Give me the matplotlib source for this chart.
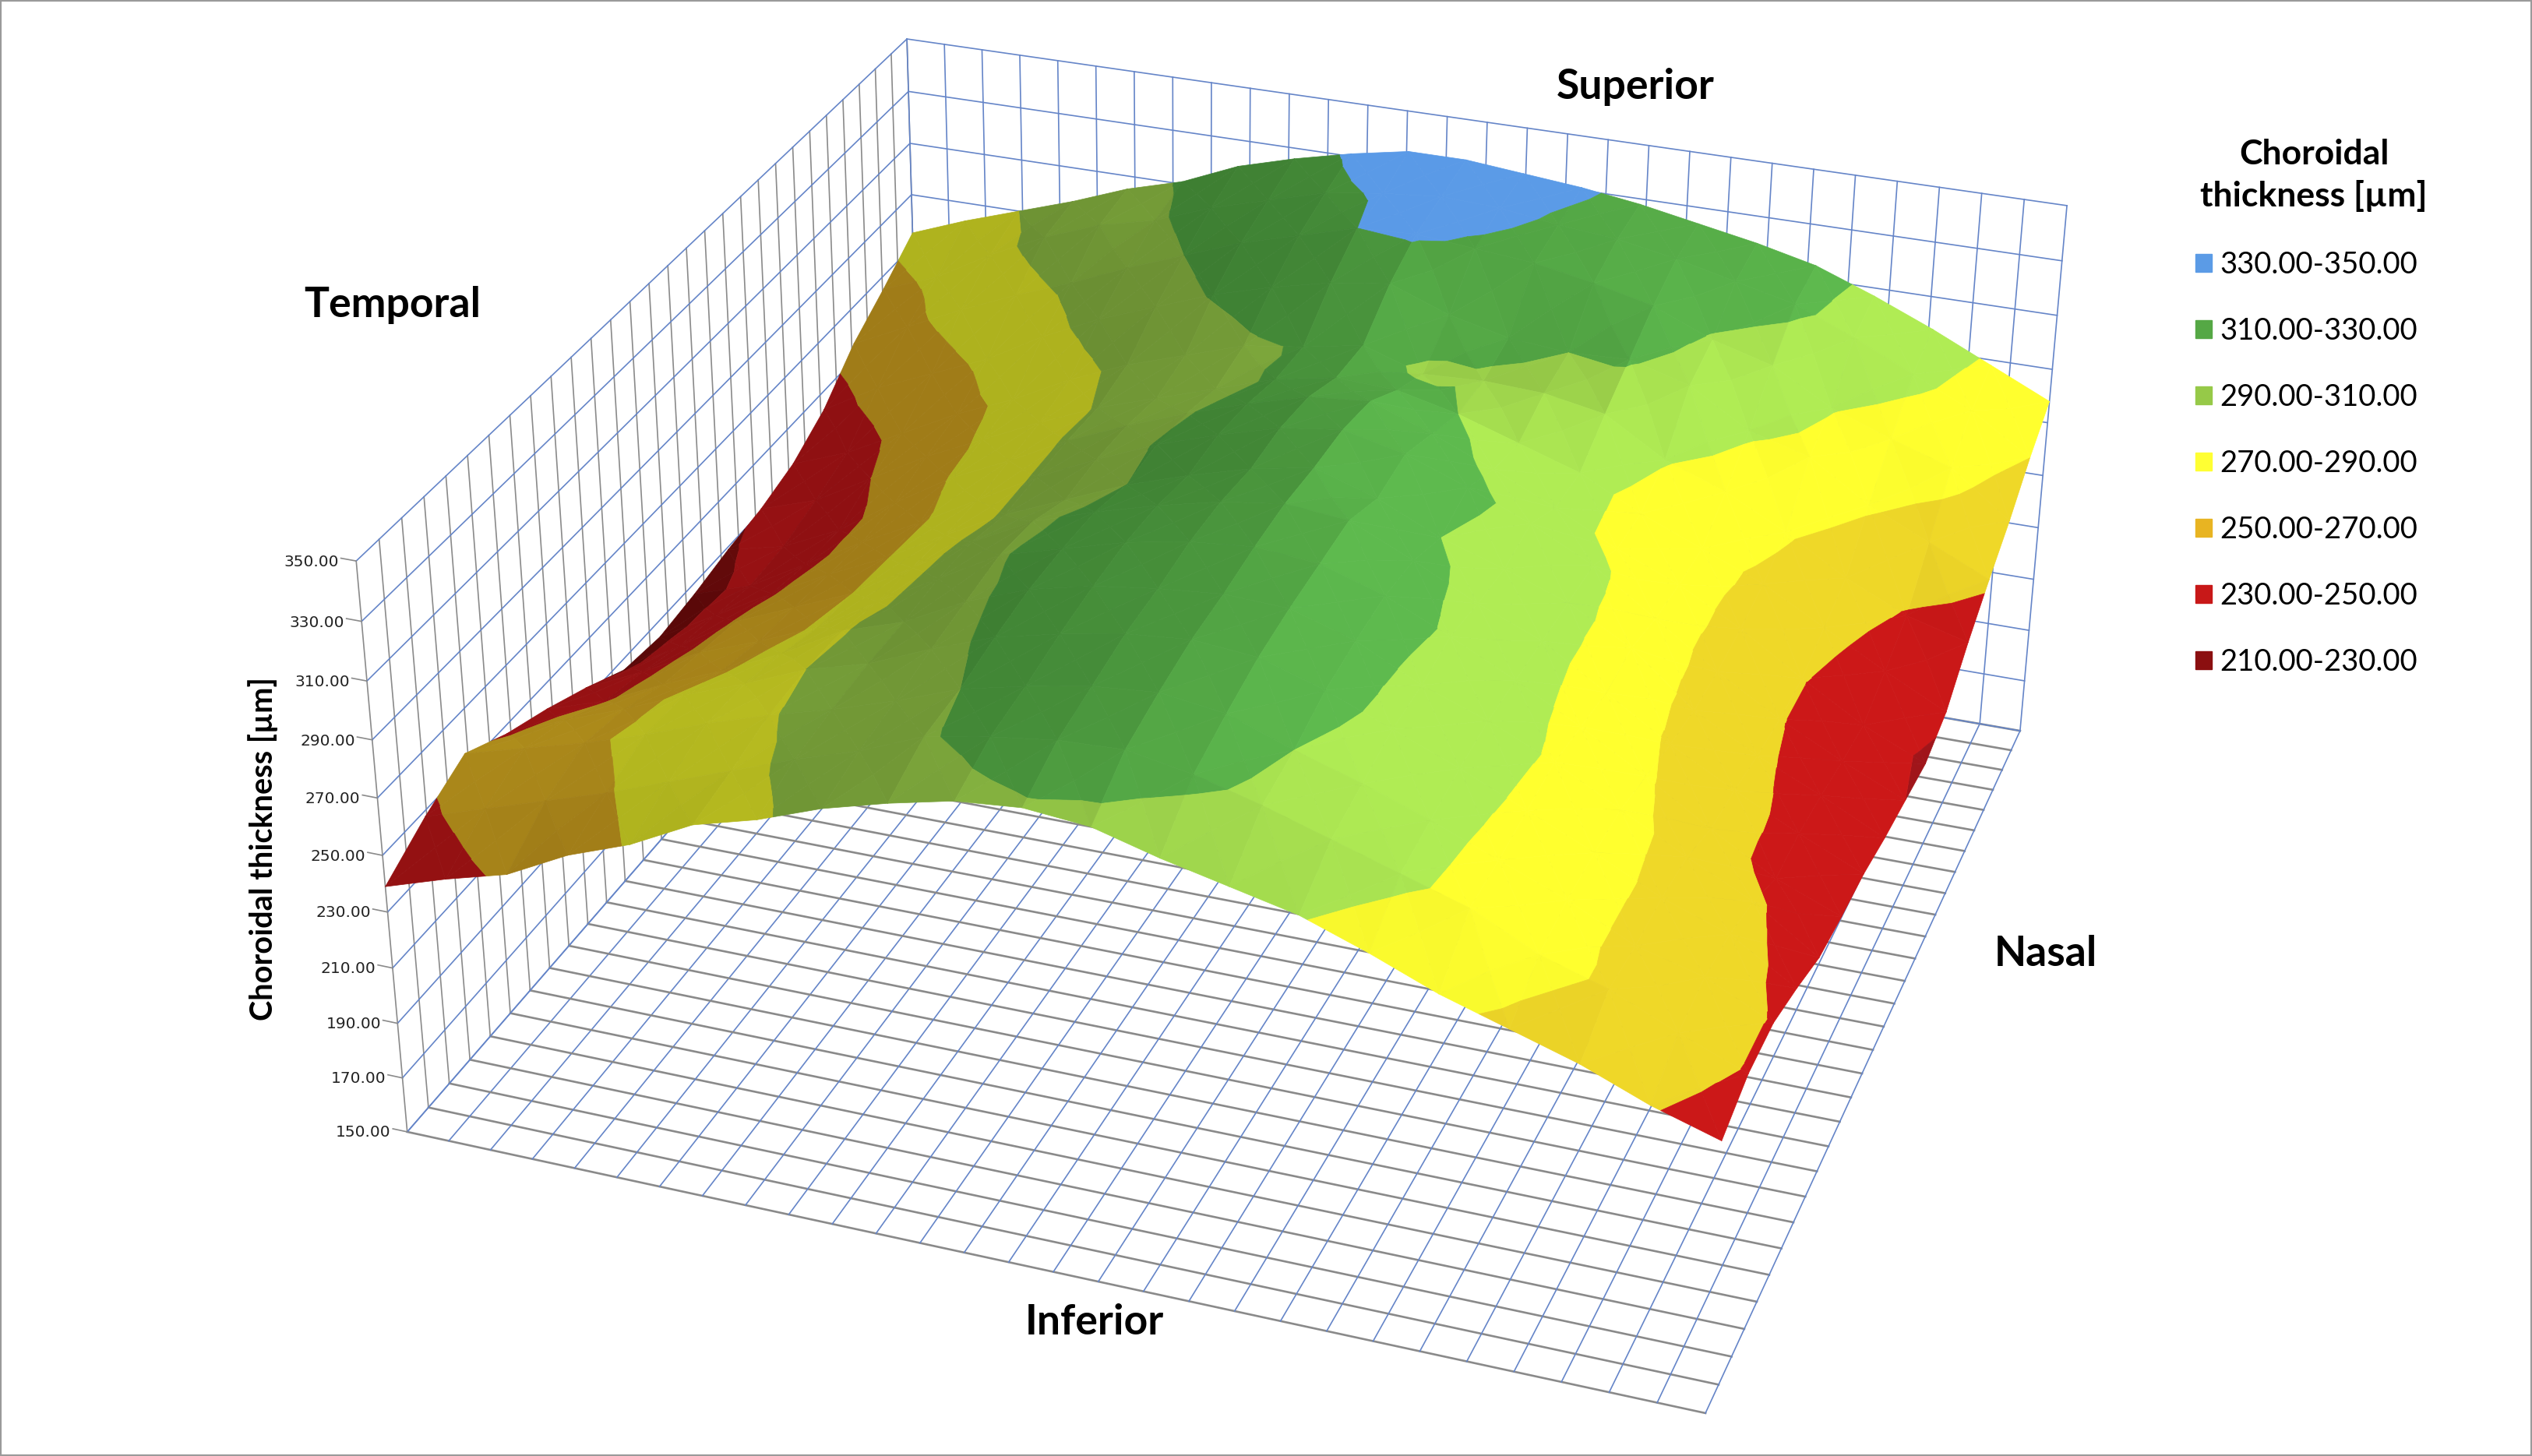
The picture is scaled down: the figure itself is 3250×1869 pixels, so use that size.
import matplotlib
matplotlib.use('Agg')
import matplotlib.pyplot as plt
import numpy as np
from matplotlib.patches import Patch, Rectangle
from mpl_toolkits.mplot3d import proj3d
from mpl_toolkits.mplot3d.art3d import Poly3DCollection

W, H = 3250, 1869

# thickness, rows go inferior -> superior, columns temporal -> nasal
thickness = np.array([
    [239,246,252,263,271,282,288,296,302,307,309,307,301,296,291,283,274,267,260,251,244],
    [248,255,262,269,277,285,293,300,309,313,316,317,313,307,300,293,286,275,268,258,249],
    [255,261,267,274,282,289,295,302,310,315,319,321,318,310,303,295,286,277,266,260,249],
    [247,256,264,273,281,290,296,305,313,318,322,324,322,315,306,297,287,277,266,258,244],
    [241,248,258,267,277,289,296,307,315,320,323,325,324,317,306,298,288,276,264,253,238],
    [234,244,255,263,272,285,297,309,315,321,325,327,325,318,308,297,285,272,258,245,236],
    [226,239,252,261,270,283,296,307,314,320,325,328,326,316,305,296,282,268,256,245,235],
    [224,236,248,259,269,281,292,301,310,317,323,327,320,310,303,295,283,265,253,243,232],
    [226,233,245,257,268,280,292,302,311,318,324,327,322,314,305,294,279,264,251,240,230],
    [229,234,244,258,271,281,292,301,309,316,322,324,316,307,297,286,277,265,251,238,228],
    [231,238,250,262,272,282,291,298,305,312,316,315,310,303,296,285,276,267,255,243,232],
    [235,243,254,265,274,285,294,301,308,311,315,308,309,308,304,291,283,272,259,249,243],
    [243,255,264,273,285,295,303,311,317,322,325,317,312,310,311,305,292,286,272,262,252],
    [256,266,276,285,293,302,310,318,324,330,331,329,327,323,318,309,303,291,283,276,260],
    [265,273,285,295,303,308,316,322,328,331,333,332,329,327,323,318,313,304,294,284,270],
    [275,283,290,297,305,311,320,326,331,335,335,333,331,328,324,320,315,307,298,288,278],
], dtype=float)

band_edges = [210, 230, 250, 270, 290, 310, 330, 350]
band_labels = ['330.00-350.00', '310.00-330.00', '290.00-310.00', '270.00-290.00',
               '250.00-270.00', '230.00-250.00', '210.00-230.00']
legend_colors = ['#5B9BE6', '#55A845', '#96C948', '#FFFF33', '#E8B422', '#C81818', '#8B0F10']
# colour of each band (low to high) on the dark and on the lit side of the surface
band_dark = ['#5A0808', '#8F1012', '#A07C18', '#AEB21E', '#6B8F33', '#3B7A30', '#5A9AE6']
band_lit = ['#A0151A', '#CC1818', '#EFD828', '#FFFF2E', '#B0EC54', '#5EBA4E', '#5B9BE8']

z_ticks = np.arange(150, 351, 20)
n_cells = 29
grid_lines = np.linspace(0, 1, n_cells + 1)

# camera: box corners (u, v, z) and where they land in the picture, in pixels
cam_world = [(0, 0, 150), (0, 0, 350), (0, 0, 250), (1, 0, 150), (1, 1, 150),
             (1, 1, 350), (0, 1, 350), (0, 1, 290)]
cam_pixel = [(523, 1453), (457, 720), (491, 1098), (2189, 1814), (2593, 938),
             (2653, 264), (1165, 50), (1169, 250)]


def solve_camera(world, pixel):
    rows = []
    for (u, v, z), (px, py) in zip(world, pixel):
        X = [u, v, z / 100, 1]
        px, py = px / 1000, py / 1000
        rows.append(X + [0, 0, 0, 0] + [-px * c for c in X])
        rows.append([0, 0, 0, 0] + X + [-py * c for c in X])
    P = np.linalg.svd(np.array(rows))[2][-1].reshape(3, 4)
    P = np.diag([1000, 1000, 1]) @ P @ np.diag([1, 1, 0.01, 1])
    if P[2] @ np.array([0.5, 0.5, 250, 1]) < 0:
        P = -P
    # third row is only used for depth sorting
    return np.array([P[0], P[1], [0, 0, 0, -1], P[2]])


def clip_poly(poly, level, keep_above):
    out = []
    for a, b in zip(poly, poly[1:] + poly[:1]):
        ina = a[2] >= level if keep_above else a[2] <= level
        inb = b[2] >= level if keep_above else b[2] <= level
        if ina:
            out.append(a)
        if ina != inb:
            t = (level - a[2]) / (b[2] - a[2])
            out.append(tuple(a[k] + t * (b[k] - a[k]) for k in range(3)))
    return out


def shade_from_slope(dz_du, dz_dv):
    # slopes in box units, the box is about 0.6 as tall as it is wide
    n = np.array([-dz_du * 0.6 / 200, -dz_dv * 0.6 / 200, 1.0])
    n = n / np.linalg.norm(n)
    return 0.98 + 0.55 * n[0] + 0.12 * n[1]


def facet_shade(tri):
    p = np.array(tri)
    n = np.cross(p[1] - p[0], p[2] - p[0])
    if n[2] < 0:
        n = -n
    return shade_from_slope(-n[0] / n[2], -n[1] / n[2])


def band_polys():
    us = np.linspace(0, 1, thickness.shape[1])
    vs = np.linspace(0, 1, thickness.shape[0])
    dz_dv, dz_du = np.gradient(thickness, vs, us)
    polys, colors = [], []
    dark = np.array([matplotlib.colors.to_rgb(c) for c in band_dark])
    lit = np.array([matplotlib.colors.to_rgb(c) for c in band_lit])
    for j in range(len(vs) - 1):
        for i in range(len(us) - 1):
            c = [(us[i], vs[j], thickness[j, i]), (us[i + 1], vs[j], thickness[j, i + 1]),
                 (us[i + 1], vs[j + 1], thickness[j + 1, i + 1]), (us[i], vs[j + 1], thickness[j + 1, i])]
            mid = tuple(np.mean(c, axis=0))
            cell = shade_from_slope(dz_du[j:j + 2, i:i + 2].mean(), dz_dv[j:j + 2, i:i + 2].mean())
            for k in range(4):
                tri = [c[k], c[(k + 1) % 4], mid]
                # mostly the smooth cell shade, a little of the facet so the mesh still shows
                t = np.clip((0.75 * cell + 0.25 * facet_shade(tri) - 0.7) / 0.5, 0, 1)
                for b in range(len(band_edges) - 1):
                    part = clip_poly(tri, band_edges[b], True)
                    if part:
                        part = clip_poly(part, band_edges[b + 1], False)
                    if len(part) >= 3:
                        polys.append(part)
                        colors.append(dark[b] + t * (lit[b] - dark[b]))
    return polys, colors


fig = plt.figure(figsize=(W / 100, H / 100), dpi=100)
ax = fig.add_subplot(projection='3d')
side = W / H
ax.set_position([0, (1 - side) / 2, 1, side])
ax.set_axis_off()
ax.computed_zorder = False
# ortho stops mplot3d masking lines that land outside [-1, 1]
ax.set_proj_type('ortho')
M = solve_camera(cam_world, cam_pixel)
ax.get_proj = lambda: M

grey = '#8A8A8A'
blue = '#6585C8'
lw = 1.2

# floor
for g in grid_lines:
    ax.plot([0, 1], [g, g], [150, 150], color=grey, lw=1.9, zorder=1)
    ax.plot([g, g], [0, 1], [150, 150], color=blue, lw=lw, zorder=1)
# left wall
for g in grid_lines:
    ax.plot([0, 0], [g, g], [150, 350], color=grey, lw=lw, zorder=1)
for z in z_ticks:
    ax.plot([0, 0], [0, 1], [z, z], color=blue, lw=lw, zorder=1)
    ax.plot([-0.012, 0], [0, 0], [z, z], color=grey, lw=lw, zorder=1)
# back wall
for g in grid_lines:
    ax.plot([g, g], [1, 1], [150, 350], color=blue, lw=lw, zorder=1)
for z in z_ticks:
    ax.plot([0, 1], [1, 1], [z, z], color=blue, lw=lw, zorder=1)

polys, colors = band_polys()
surf = Poly3DCollection(polys, facecolors=colors, edgecolors=colors, linewidths=0.5, zorder=3)
ax.add_collection3d(surf, autolim=False)

# 2d limits in picture pixels, y runs downwards
pad = (W - H) / 2
ax.viewLim.intervalx = (0, W)
ax.viewLim.intervaly = (H + pad, -pad)

for z in z_ticks:
    px, py, _ = proj3d.proj_transform(-0.014, 0, z - 1.5, M)
    fig.text(px / W, 1 - py / H, f'{z:.2f}', ha='right', va='center', fontsize=14.5,
             color='#222222', family='DejaVu Sans')

bold = dict(family='Lato', fontweight='bold', color='black', ha='center', va='center')
fig.text(1013 / 1568, 1 - 54 / 902, 'Superior', fontsize=38.5, **bold)
fig.text(243 / 1568, 1 - 189 / 902, 'Temporal', fontsize=38.5, **bold)
fig.text(1267 / 1568, 1 - 591 / 902, 'Nasal', fontsize=38.5, **bold)
fig.text(678 / 1568, 1 - 819 / 902, 'Inferior', fontsize=38.5, **bold)
fig.text(163 / 1568, 1 - 526 / 902, 'Choroidal thickness [µm]', fontsize=28.5, rotation=90, **bold)
fig.text(1433 / 1568, 1 - 108.5 / 902, 'Choroidal\nthickness [µm]', fontsize=32, linespacing=1.4,
         multialignment='center', **bold)

handles = [Patch(color=c) for c in legend_colors]
leg = fig.legend(handles, band_labels, loc='upper left', bbox_to_anchor=(1343 / 1568, 1 - 139 / 902),
                 frameon=False, handlelength=0.55, handleheight=0.55, handletextpad=0.27,
                 labelspacing=1.28, prop={'family': 'Lato', 'size': 27.5})

fig.patches.append(Rectangle((0, 0), 1, 1, transform=fig.transFigure, fill=False,
                             edgecolor='#9A9A9A', lw=3, figure=fig))
fig.savefig('out.png', dpi=100)
